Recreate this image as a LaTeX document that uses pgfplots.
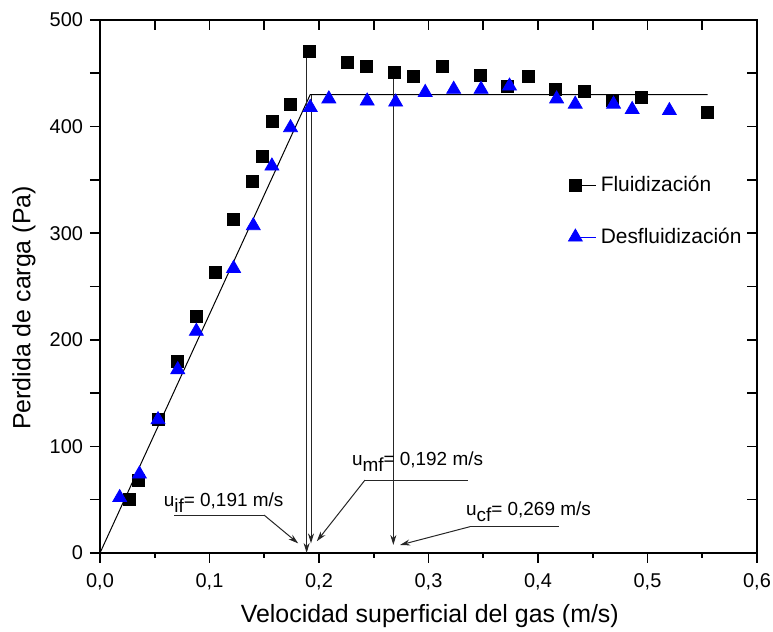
\documentclass[border=0pt]{standalone}
\usepackage{fontspec}
\setmainfont{Liberation Sans}
\usepackage{pgfplots}
\pgfplotsset{compat=1.18}
\usetikzlibrary{arrows.meta}

\newcommand\sub[1]{\raisebox{-3bp}{#1}}

\begin{document}
\begin{tikzpicture}
\pgfplotsset{
  frame/.style={
    width=328.5bp, height=266.5bp, scale only axis,
    xmin=0, xmax=0.6, ymin=0, ymax=500,
    axis line style={line width=1bp},
    tick style={line width=0.8bp, black},
  },
}
% mirrored ticks on top and right, pointing inward
\begin{axis}[frame,
  tick align=inside, xtick pos=right, ytick pos=right,
  xtick={0,0.05,0.1,0.15,0.2,0.25,0.3,0.35,0.4,0.45,0.5,0.55,0.6},
  ytick={0,50,...,500},
  xticklabels={}, yticklabels={},
  major tick length=5bp,
]
\end{axis}

\begin{axis}[frame,
  tick align=outside, xtick pos=left, ytick pos=left,
  xtick={0,0.1,0.2,0.3,0.4,0.5,0.6},
  xticklabels={{0,0},{0,1},{0,2},{0,3},{0,4},{0,5},{0,6}},
  minor x tick num=1,
  ytick={0,50,...,500},
  yticklabels={0,,100,,200,,300,,400,,500},
  major tick length=5bp, minor tick length=2.5bp,
  ticklabel style={font=\fontsize{10}{12}\selectfont},
  xticklabel style={yshift=-2bp},
  xlabel={Velocidad superficial del gas (m/s)},
  ylabel={Perdida de carga (Pa)},
  label style={font=\fontsize{12.5}{15}\selectfont},
  xlabel style={at={(axis description cs:0.502,-0.119)}, anchor=center},
  ylabel style={at={(axis description cs:-0.1157,0.4597)}, anchor=center},
  legend style={at={(axis cs:0.422,361)}, anchor=north west, draw=none, fill=none,
    font=\fontsize{10.5}{12.6}\selectfont, row sep=12.5bp},
  legend image code/.code={%
    \draw[mark repeat=2,mark phase=2,#1] plot coordinates {(0cm,0cm) (0.3cm,0cm) (0.6cm,0cm)};
    \path (0.3cm,0cm) -- ++(10.5bp,0bp);
  },
  legend cell align=left,
  clip=false,
]
% Fluidizacion
\addplot[only marks, mark=square*, mark size=3bp, black] coordinates {
  (0.027,50) (0.035,68) (0.053,125) (0.071,180) (0.088,222)
  (0.105,263) (0.122,313) (0.139,349) (0.148,372) (0.157,405)
  (0.174,421) (0.191,471) (0.226,460) (0.243,456) (0.269,451)
  (0.286,447) (0.313,456) (0.347,448) (0.372,438) (0.391,447)
  (0.416,435) (0.442,433) (0.468,425) (0.494,427) (0.555,413)
};
\addlegendentry{Fluidización}
% Desfluidizacion
\addplot[only marks, mark=triangle*, mark size=4bp, blue] coordinates {
  (0.018,52) (0.036,74) (0.053,125) (0.071,172) (0.088,208)
  (0.122,267) (0.140,307) (0.157,363) (0.174,399) (0.192,418)
  (0.209,426) (0.244,424) (0.270,423) (0.297,432) (0.323,435)
  (0.348,435) (0.374,438) (0.417,426) (0.434,421) (0.469,421)
  (0.486,416) (0.520,415)
};
\addlegendentry{Desfluidización}
% fitted lines
\addplot[black, line width=0.5bp, forget plot] coordinates {(0,0) (0.192,430) (0.555,430)};

% vertical markers
\begin{scope}[line width=0.5bp, black!85, -{Stealth[length=5bp,width=3bp]}]
\draw (axis cs:0.1887,471) -- (axis cs:0.1887,0);
\draw (axis cs:0.1927,430) -- (axis cs:0.1927,9);
\draw (axis cs:0.2679,451) -- (axis cs:0.2679,7.5);
\end{scope}
% labels with leader arrows
\begin{scope}[line width=0.5bp, black!85]
\draw[-{Stealth[length=5bp,width=3bp]}] (axis cs:0.1498,35.6) -- (axis cs:0.181,9);
\draw (axis cs:0.0676,35.6) -- (axis cs:0.1498,35.6);
\draw[-{Stealth[length=5bp,width=3bp]}] (axis cs:0.242,68.4) -- (axis cs:0.198,11);
\draw (axis cs:0.242,68.4) -- (axis cs:0.336,68.4);
\draw[-{Stealth[length=5bp,width=3bp]}] (axis cs:0.338,24.7) -- (axis cs:0.274,7.5);
\draw (axis cs:0.338,24.7) -- (axis cs:0.419,24.7);
\end{scope}
\begin{scope}[every node/.style={inner sep=0pt, anchor=base west, font=\fontsize{9.5}{11}\selectfont}]
\node at (axis cs:0.058,43.4) {u\sub{if}= 0,191 m/s};
\node at (axis cs:0.2298,82.5) {u\sub{mf}= 0,192 m/s};
\node at (axis cs:0.334,35.6) {u\sub{cf}= 0,269 m/s};
\end{scope}
\end{axis}
\pgfresetboundingbox
\path (current axis.south west) ++(-50bp,-39.5bp) coordinate (bl);
\path (current axis.north east) ++(8bp,10bp) coordinate (tr);
\path[use as bounding box] (bl) rectangle (tr);
\end{tikzpicture}
\end{document}
